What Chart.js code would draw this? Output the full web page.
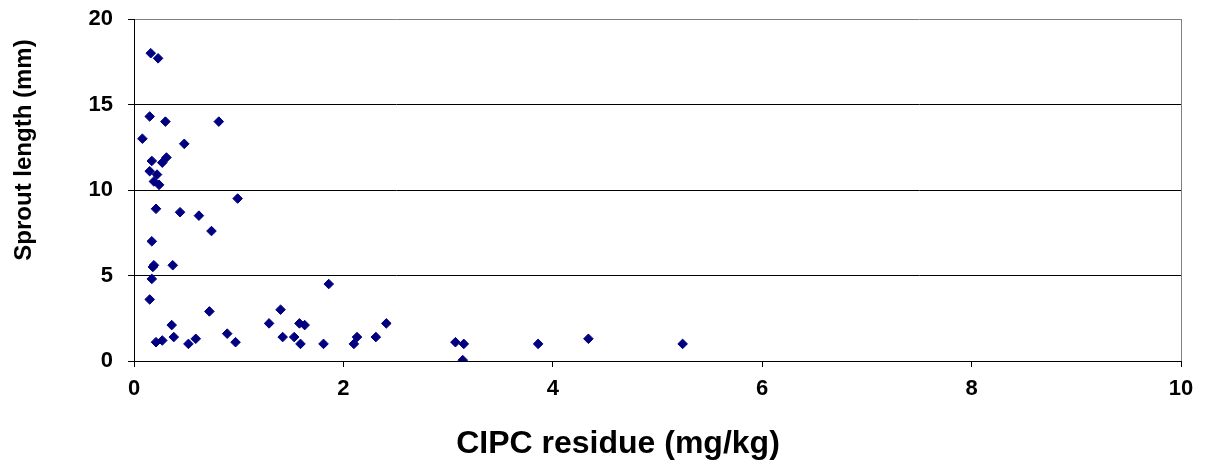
<!DOCTYPE html>
<html>
<head>
<meta charset="utf-8">
<script src="https://cdn.jsdelivr.net/npm/chart.js@4"></script>
<style>
  html, body { margin: 0; padding: 0; background: #ffffff; }
  #wrap { width: 1205px; height: 473px; }
</style>
</head>
<body>
<div id="wrap"><canvas id="c" width="1205" height="473"></canvas></div>
<script>
// CIPC residue (mg/kg) for each sample
const residue = [0.08, 0.16, 0.23, 0.15, 0.30, 0.81, 0.48, 0.17, 0.27, 0.31,
                 0.15, 0.22, 0.19, 0.24, 0.21, 0.44, 0.62, 0.99, 0.74, 0.17,
                 0.19, 0.18, 0.37, 0.17, 0.15, 0.72, 0.36, 0.38, 0.21, 0.27,
                 0.52, 0.59, 0.89, 0.97, 1.29, 1.40, 1.42, 1.86, 1.58, 1.63,
                 1.53, 1.59, 1.81, 2.13, 2.10, 2.31, 2.41, 3.07, 3.15, 3.14,
                 3.86, 4.34, 5.24];
// Sprout length (mm) for each sample
const sprout = [13.0, 18.0, 17.7, 14.3, 14.0, 14.0, 12.7, 11.7, 11.6, 11.9,
                11.1, 10.9, 10.5, 10.3, 8.9, 8.7, 8.5, 9.5, 7.6, 7.0,
                5.6, 5.5, 5.6, 4.8, 3.6, 2.9, 2.1, 1.4, 1.1, 1.2,
                1.0, 1.3, 1.6, 1.1, 2.2, 3.0, 1.4, 4.5, 2.2, 2.1,
                1.4, 1.0, 1.0, 1.4, 1.0, 1.4, 2.2, 1.1, 1.0, 0.05,
                1.0, 1.3, 1.0];
const xTicks = [0, 2, 4, 6, 8, 10];
const yTicks = [0, 5, 10, 15, 20];
const xTitle = 'CIPC residue (mg/kg)';
const yTitle = 'Sprout length (mm)';

const FONT = '"Liberation Sans", Arial, sans-serif';
const points = residue.map((r, i) => ({ x: r, y: sprout[i] }));

const titlePlugin = {
  id: 'axisTitles',
  afterDraw(chart) {
    const ctx = chart.ctx;
    ctx.save();
    ctx.fillStyle = '#000';
    ctx.textAlign = 'center';
    ctx.textBaseline = 'middle';
    ctx.font = 'bold 32px ' + FONT;
    ctx.fillText(xTitle, 618, 444);
    ctx.translate(24, 150);
    ctx.rotate(-Math.PI / 2);
    ctx.font = 'bold 24px ' + FONT;
    ctx.fillText(yTitle, 0, 0);
    ctx.restore();
  }
};

new Chart(document.getElementById('c'), {
  type: 'scatter',
  data: {
    datasets: [{
      data: points,
      pointStyle: 'rectRot',
      pointRadius: 4.8,
      pointBorderWidth: 1,
      backgroundColor: '#000080',
      borderColor: '#000080'
    }]
  },
  options: {
    responsive: false,
    animation: false,
    devicePixelRatio: 1,
    layout: { padding: { top: 19, right: 24, bottom: 0, left: 0 } },
    plugins: { legend: { display: false }, tooltip: { enabled: false } },
    scales: {
      x: {
        type: 'linear',
        min: 0, max: 10,
        afterBuildTicks(scale) { scale.ticks = xTicks.map(v => ({ value: v })); },
        afterFit(scale) { scale.height = 112; },
        ticks: {
          font: { family: FONT, size: 22, weight: 'bold' },
          color: '#000',
          padding: 9,
          maxRotation: 0
        },
        grid: {
          drawOnChartArea: true,
          color: (c) => (c.tick && c.tick.value === 10) ? '#808080' : 'rgba(0,0,0,0)',
          tickColor: '#000',
          tickLength: 6,
          lineWidth: 1
        },
        border: { display: true, color: '#000', width: 1 }
      },
      y: {
        min: 0, max: 20,
        afterBuildTicks(scale) { scale.ticks = yTicks.map(v => ({ value: v })); },
        afterFit(scale) {
          scale.width = 134;
          scale.paddingTop = 0;
          scale.paddingBottom = 0;
        },
        ticks: {
          font: { family: FONT, size: 22, weight: 'bold' },
          color: '#000',
          padding: 15
        },
        grid: {
          color: (c) => (c.tick && c.tick.value === 20) ? '#808080' : '#000',
          tickColor: '#000',
          tickLength: 6,
          lineWidth: 1
        },
        border: { display: true, color: '#000', width: 1 }
      }
    }
  },
  plugins: [titlePlugin]
});
</script>
</body>
</html>
